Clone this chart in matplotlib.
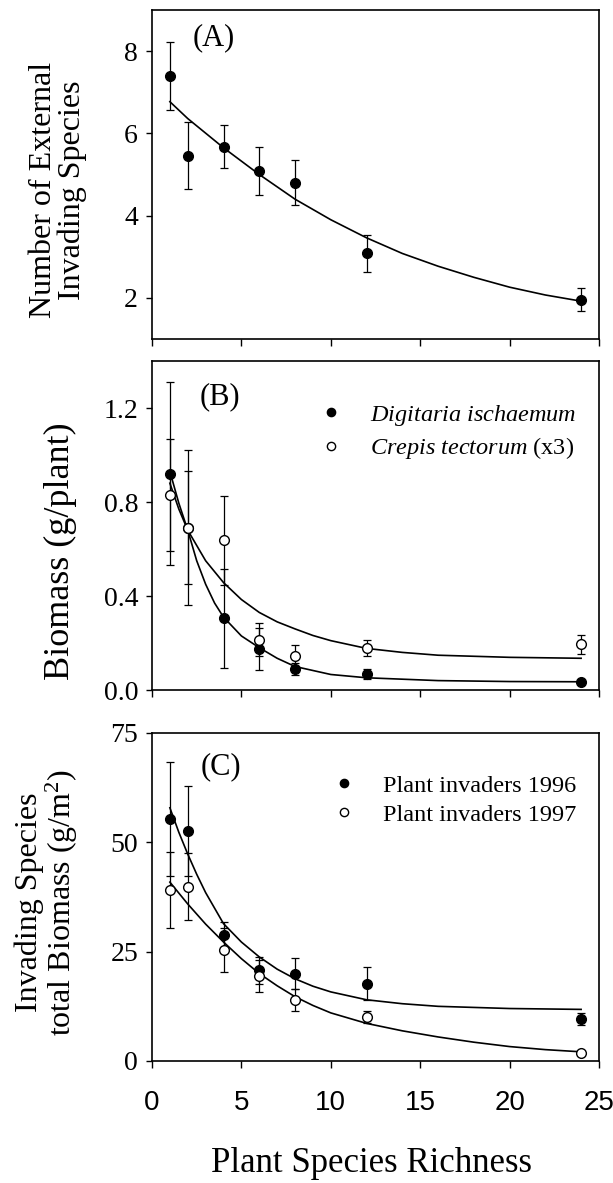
import matplotlib
matplotlib.use("Agg")
import matplotlib.pyplot as plt
from matplotlib.lines import Line2D

plt.rcParams['font.family'] = ['Liberation Serif', 'DejaVu Serif']
plt.rcParams['mathtext.fontset'] = 'custom'
plt.rcParams['mathtext.rm'] = 'Liberation Serif'
plt.rcParams['mathtext.it'] = 'Liberation Serif:italic'

# species richness levels
richness = [1, 2, 4, 6, 8, 12, 24]

# (A) number of external invading species
n_invaders = [7.39, 5.46, 5.68, 5.08, 4.80, 3.08, 1.96]
n_invaders_err = [0.82, 0.82, 0.53, 0.59, 0.55, 0.45, 0.27]
fit_a_x = [1, 2, 4, 6, 8, 10, 12, 14, 16, 18, 20, 22, 24]
fit_a_y = [6.77, 6.36, 5.65, 5.00, 4.40, 3.90, 3.46, 3.08, 2.77, 2.50, 2.26, 2.07, 1.92]

# (B) biomass per plant
digitaria = [0.92, 0.69, 0.305, 0.174, 0.089, 0.068, 0.035]
digitaria_err = [0.39, 0.33, 0.21, 0.09, 0.025, 0.02, 0.008]
crepis = [0.83, 0.69, 0.637, 0.213, 0.146, 0.178, 0.195]
crepis_err = [0.24, 0.24, 0.19, 0.07, 0.045, 0.035, 0.04]
fit_dig_x = [1, 1.5, 2, 2.5, 3, 3.5, 4, 5, 6, 7, 8, 10, 12, 16, 20, 24]
fit_dig_y = [0.93, 0.795, 0.68, 0.55, 0.45, 0.37, 0.31, 0.23, 0.18, 0.135, 0.10,
             0.066, 0.052, 0.040, 0.036, 0.035]
fit_crep_x = [1, 1.5, 2, 3, 4, 5, 6, 7, 8, 9, 10, 12, 14, 16, 20, 24]
fit_crep_y = [0.88, 0.77, 0.68, 0.55, 0.457, 0.385, 0.33, 0.29, 0.26, 0.232, 0.21,
              0.177, 0.16, 0.148, 0.139, 0.135]

# (C) total invader biomass
inv96 = [55.4, 52.6, 28.7, 20.7, 20.0, 17.7, 9.6]
inv96_err = [13.0, 10.3, 3.0, 3.1, 3.5, 3.7, 1.3]
inv97 = [39.1, 39.9, 25.3, 19.4, 14.0, 10.1, 1.9]
inv97_err = [8.8, 7.6, 5.0, 3.6, 2.5, 1.3, 0.4]
fit96_x = [1, 1.5, 2, 2.5, 3, 4, 5, 6, 7, 8, 9, 10, 12, 14, 16, 20, 24]
fit96_y = [57.9, 52.3, 47.3, 42.7, 38.5, 31.4, 27.2, 23.8, 21.0, 18.8, 17.1, 15.8,
           14.0, 13.1, 12.5, 12.0, 11.8]
fit97_x = [1, 2, 3, 4, 5, 6, 7, 8, 9, 10, 12, 14, 16, 18, 20, 22, 24]
fit97_y = [40.9, 35.9, 31.3, 27.2, 23.4, 20.0, 17.2, 14.7, 12.7, 11.0, 8.6, 6.9,
           5.5, 4.3, 3.3, 2.6, 2.1]

x_ticks = [0, 5, 10, 15, 20, 25]

fig = plt.figure(figsize=(6.13, 11.83), dpi=100)
W, H = 613.0, 1183.0
left, width = 152 / W, 447 / W
ax_a = fig.add_axes([left, 1 - 339 / H, width, 329 / H])
ax_b = fig.add_axes([left, 1 - 690 / H, width, 329 / H])
ax_c = fig.add_axes([left, 1 - 1061 / H, width, 328 / H])

eb = dict(fmt='none', ecolor='black', elinewidth=0.9, capsize=3, capthick=0.9)
filled = dict(marker='o', ms=7, color='black', linestyle='none', zorder=4)
hollow = dict(marker='o', ms=7, mfc='white', mec='black', mew=1.0, linestyle='none', zorder=5)

# panel A
ax_a.errorbar(richness, n_invaders, yerr=n_invaders_err, **eb)
ax_a.plot(fit_a_x, fit_a_y, color='black', lw=1.2)
ax_a.plot(richness, n_invaders, **filled)
ax_a.set_ylim(1, 9)
ax_a.set_yticks([2, 4, 6, 8])

# panel B
ax_b.errorbar(richness, digitaria, yerr=digitaria_err, **eb)
ax_b.errorbar(richness, crepis, yerr=crepis_err, **eb)
ax_b.plot(fit_dig_x, fit_dig_y, color='black', lw=1.2)
ax_b.plot(fit_crep_x, fit_crep_y, color='black', lw=1.2)
ax_b.plot(richness, digitaria, **filled)
ax_b.plot(richness, crepis, **hollow)
ax_b.set_ylim(0, 1.4)
ax_b.set_yticks([0.0, 0.4, 0.8, 1.2])
ax_b.set_yticklabels(['0.0', '0.4', '0.8', '1.2'])

# panel C
ax_c.errorbar(richness, inv96, yerr=inv96_err, **eb)
ax_c.errorbar(richness, inv97, yerr=inv97_err, **eb)
ax_c.plot(fit96_x, fit96_y, color='black', lw=1.2)
ax_c.plot(fit97_x, fit97_y, color='black', lw=1.2)
ax_c.plot(richness, inv96, **filled)
ax_c.plot(richness, inv97, **hollow)
ax_c.set_ylim(0, 75)
ax_c.set_yticks([0, 25, 50, 75])

for ax in (ax_a, ax_b, ax_c):
    ax.set_xlim(0, 25)
    ax.set_xticks(x_ticks)
    for s in ax.spines.values():
        s.set_linewidth(1.2)
    ax.tick_params(axis='y', length=4, width=1, labelsize=20, pad=6)
    ax.tick_params(axis='x', length=5, width=1, pad=16)
ax_a.tick_params(axis='x', labelbottom=False)
ax_b.tick_params(axis='x', labelbottom=False)
for lab in ax_c.get_xticklabels():
    lab.set_fontfamily('Liberation Sans')
    lab.set_fontsize(20)

# panel letters
ax_a.text(0.139, 0.915, '(A)', transform=ax_a.transAxes, fontsize=22, ha='center', va='center')
ax_b.text(0.152, 0.890, '(B)', transform=ax_b.transAxes, fontsize=22, ha='center', va='center')
ax_c.text(0.154, 0.896, '(C)', transform=ax_c.transAxes, fontsize=22, ha='center', va='center')

# legends
h_fill = Line2D([], [], **filled)
h_open = Line2D([], [], **hollow)
ax_b.legend([h_fill, h_open],
            [r'$\mathit{Digitaria\ ischaemum}$', r'$\mathit{Crepis\ tectorum}$ (x3)'],
            loc='upper left', bbox_to_anchor=(0.346, 0.91), frameon=False,
            fontsize=17.5, handlelength=1.0, handletextpad=1.1, borderpad=0,
            labelspacing=0.3, markerscale=0.85)
ax_c.legend([h_fill, h_open], ['Plant invaders 1996', 'Plant invaders 1997'],
            loc='upper left', bbox_to_anchor=(0.376, 0.91), frameon=False,
            fontsize=17.5, handlelength=1.0, handletextpad=1.1, borderpad=0,
            labelspacing=0.28, markerscale=0.85)

# axis titles
fig.text(58 / W, 1 - 190 / H, 'Number of External\nInvading Species', rotation=90,
         ha='center', va='center', fontsize=23, linespacing=1.0)
fig.text(60 / W, 1 - 551 / H, 'Biomass (g/plant)', rotation=90,
         ha='center', va='center', fontsize=26)
fig.text(47 / W, 1 - 902 / H, 'Invading Species\ntotal Biomass (g/m$^{2}$)', rotation=90,
         ha='center', va='center', fontsize=23, linespacing=1.0)
fig.text(371 / W, 1 - 1163 / H, 'Plant Species Richness', ha='center', va='center', fontsize=25)

fig.savefig('out.png', dpi=100)
